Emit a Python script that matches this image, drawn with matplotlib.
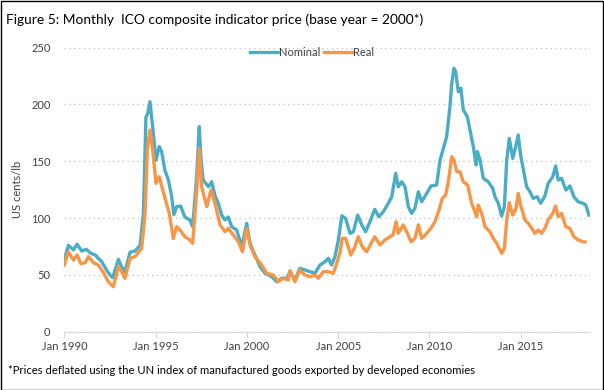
import numpy as np
import matplotlib.pyplot as plt
from matplotlib.patches import Rectangle

# fechas en años decimales, valores en US cents/lb
nominal_t = [1990.0, 1990.22, 1990.5, 1990.7, 1990.95, 1991.2, 1991.45, 1991.7, 1991.86, 1992.05,
             1992.32, 1992.5, 1992.65, 1992.96, 1993.14, 1993.32, 1993.6, 1993.87, 1994.15, 1994.33,
             1994.47, 1994.57, 1994.69, 1994.84, 1995.02, 1995.2, 1995.33, 1995.51, 1995.7, 1995.88,
             1996.0, 1996.15, 1996.37, 1996.6, 1996.88, 1997.03, 1997.25, 1997.39, 1997.47, 1997.6,
             1997.9, 1998.07, 1998.25, 1998.43, 1998.62, 1998.8, 1998.98, 1999.17, 1999.44, 1999.72,
             1999.99, 2000.17, 2000.44, 2000.72, 2001.0, 2001.36, 2001.63, 2001.9, 2002.18, 2002.36,
             2002.63, 2002.9, 2003.18, 2003.46, 2003.73, 2004.0, 2004.28, 2004.46, 2004.64, 2004.82,
             2005.0, 2005.2, 2005.4, 2005.65, 2005.83, 2006.07, 2006.29, 2006.5, 2006.74, 2007.0,
             2007.23, 2007.47, 2007.74, 2007.93, 2008.15, 2008.29, 2008.48, 2008.66, 2008.84, 2009.02,
             2009.2, 2009.39, 2009.57, 2009.85, 2010.08, 2010.39, 2010.58, 2010.76, 2010.94, 2011.12,
             2011.22, 2011.34, 2011.43, 2011.58, 2011.72, 2011.85, 2012.07, 2012.22, 2012.4, 2012.55,
             2012.62, 2012.77, 2012.95, 2013.22, 2013.46, 2013.59, 2013.77, 2013.95, 2014.1, 2014.23,
             2014.37, 2014.56, 2014.74, 2014.86, 2014.99, 2015.18, 2015.32, 2015.5, 2015.68, 2015.9,
             2016.09, 2016.32, 2016.5, 2016.75, 2016.91, 2017.05, 2017.23, 2017.47, 2017.69, 2017.91,
             2018.14, 2018.41, 2018.56, 2018.73]
nominal_v = [63, 76, 72, 77, 71, 72.5, 69, 67.5, 64.6, 61.6,
             54, 50, 47.5, 63.7, 57, 53, 70, 71, 76, 104,
             189, 192, 202.5, 180, 151, 163, 158.5, 142, 133.5, 119,
             103, 110, 110.6, 101, 98.3, 92.5, 136.5, 180.5, 155, 133.5,
             127.6, 132, 120, 113, 102.7, 98.3, 101, 92.4, 89.5, 74.8,
             95.4, 77.8, 67.5, 57.2, 51.4, 48.4, 44, 47, 47, 52.8,
             45.5, 55.8, 54.3, 52.8, 51.4, 58.7, 61.6, 64.6, 58.7, 66,
             80, 102, 99.8, 86.6, 88, 102.7, 94, 88, 96.8, 107.7,
             101.2, 105.6, 113, 118.8, 139.4, 127.6, 132, 127.6, 110, 104.2,
             108.6, 123.2, 114.4, 121.8, 128.3, 129.1, 151.1, 161.4, 171.7, 198,
             218.7, 231.9, 228.9, 211.3, 214.3, 195.2, 189.3, 177.5, 162.9, 146.7,
             158.5, 151.1, 135, 132, 126.2, 118.8, 113, 101.8, 110, 151.1,
             170.2, 152.6, 164.3, 173.2, 155.5, 139.4, 127.6, 123.2, 117.4, 118.8,
             113, 119.5, 130.6, 136.4, 145.9, 133.5, 135, 124.7, 128.3, 118.8,
             114.4, 113, 111.5, 102.7]

real_t = [1990.0, 1990.22, 1990.5, 1990.7, 1990.9, 1991.14, 1991.32, 1991.6, 1991.86, 1992.14,
          1992.41, 1992.68, 1992.96, 1993.14, 1993.32, 1993.6, 1993.87, 1994.24, 1994.42, 1994.55,
          1994.69, 1994.84, 1995.02, 1995.2, 1995.39, 1995.57, 1995.75, 1995.97, 1996.15, 1996.34,
          1996.6, 1996.88, 1997.03, 1997.25, 1997.39, 1997.52, 1997.8, 1998.03, 1998.25, 1998.53,
          1998.8, 1998.98, 1999.26, 1999.53, 1999.75, 1999.99, 2000.17, 2000.44, 2000.81, 2001.08,
          2001.45, 2001.72, 2001.99, 2002.27, 2002.36, 2002.63, 2002.9, 2003.18, 2003.46, 2003.73,
          2003.91, 2004.18, 2004.46, 2004.73, 2004.92, 2005.1, 2005.22, 2005.4, 2005.69, 2005.88,
          2006.1, 2006.32, 2006.56, 2006.8, 2007.0, 2007.29, 2007.55, 2007.83, 2008.0, 2008.17,
          2008.29, 2008.56, 2008.75, 2008.99, 2009.2, 2009.39, 2009.57, 2009.85, 2010.08, 2010.3,
          2010.52, 2010.7, 2010.89, 2011.03, 2011.22, 2011.34, 2011.49, 2011.67, 2011.85, 2012.09,
          2012.31, 2012.49, 2012.58, 2012.67, 2012.86, 2013.04, 2013.31, 2013.49, 2013.68, 2013.86,
          2013.95, 2014.1, 2014.23, 2014.37, 2014.56, 2014.74, 2014.86, 2014.99, 2015.23, 2015.41,
          2015.6, 2015.78, 2015.96, 2016.14, 2016.32, 2016.5, 2016.75, 2016.91, 2017.05, 2017.23,
          2017.47, 2017.69, 2017.91, 2018.14, 2018.41, 2018.52]
real_v = [58.7, 70.4, 63, 67.5, 60, 60.7, 66, 60.7, 58.7, 52,
          44, 39.6, 57, 53, 47, 64.6, 66, 73.4, 104, 161,
          177.5, 160, 130.6, 136.4, 124.7, 114.4, 104, 82, 92.4, 89.5,
          83.6, 80.7, 77.8, 124.7, 161.4, 127.6, 110, 124.7, 113, 94,
          88, 91, 85, 79.2, 70.4, 91, 76.3, 66, 58.7, 51.4,
          49.9, 44, 47, 45.5, 53.7, 44, 54.3, 49.9, 48.4, 49.9,
          47, 52.8, 52.8, 51.4, 60, 70, 82.2, 82.2, 67.5, 73.4,
          83.6, 74.8, 70.4, 77.8, 83.6, 76.3, 80.7, 83.6, 85.1, 96.8,
          86.6, 94, 88, 79.2, 82.2, 94, 82.2, 86.6, 91, 96.8,
          107.1, 117.4, 120.3, 132, 154, 151.1, 140.8, 140.8, 132, 129.1,
          113, 105.6, 101.2, 111.5, 104.2, 92.4, 88, 82.2, 77.8, 71.9,
          69, 73.4, 98.3, 113.6, 102.7, 108.6, 121.8, 111.5, 98.3, 95.4,
          91, 86.6, 89.5, 86.6, 91, 98.3, 104.2, 110.6, 101.2, 104.2,
          92.4, 91, 83.6, 80.7, 79.2, 79]

xticks = [1990, 1995, 2000, 2005, 2010, 2015]
xticklabels = ['Jan 1990', 'Jan 1995', 'Jan 2000', 'Jan 2005', 'Jan 2010', 'Jan 2015']
yticks = [0, 50, 100, 150, 200, 250]

plt.rcParams['font.family'] = ['Lato', 'DejaVu Sans']

fig = plt.figure(figsize=(6.04, 3.9), dpi=100)
ax = fig.add_axes([0.1065, 0.1495, 0.8703, 0.7282])

ax.plot(nominal_t, nominal_v, color='#4BACC6', lw=2.4, label='Nominal', zorder=3)
ax.plot(real_t, real_v, color='#F79646', lw=2.4, label='Real', zorder=4)

ax.set_xlim(1990, 2018.79)
ax.set_ylim(0, 250)
ax.set_xticks(xticks)
ax.set_xticklabels(xticklabels, fontsize=8, color='#404040')
ax.set_yticks(yticks)
ax.set_yticklabels([str(v) for v in yticks], fontsize=8, color='#404040')
ax.tick_params(axis='y', length=0, pad=10)
ax.tick_params(axis='x', length=4, color='#D9D9D9', pad=3)
for s in ['top', 'right', 'left']:
    ax.spines[s].set_visible(False)
ax.spines['bottom'].set_color('#D9D9D9')
ax.grid(axis='y', color='#C8C8C8', linestyle=(0, (1, 2.5)), lw=1)
ax.set_axisbelow(True)
ax.set_ylabel('US cents/lb', fontsize=8, color='#404040', labelpad=6)

fig.legend(loc='center', bbox_to_anchor=(0.517, 1 - 52 / 390), ncol=2, frameon=False,
           fontsize=8, handlelength=2.5, columnspacing=0.3, handletextpad=0.1,
           labelcolor='#404040')

fig.text(6 / 604, 1 - 20 / 390, 'Figure 5: Monthly  ICO composite indicator price (base year = 2000*)',
         fontsize=9.9, va='center', ha='left', color='black')
fig.text(8 / 604, 1 - 370 / 390,
         '*Prices deflated using the UN index of manufactured goods exported by developed economies',
         fontsize=8.1, va='center', ha='left', color='black')

fig.patches.append(Rectangle((0.5 / 604, 0.5 / 390), 1 - 1.5 / 604, 1 - 1.5 / 390,
                             transform=fig.transFigure, fill=False, edgecolor='black', lw=1))

fig.savefig('out.png', dpi=100)
